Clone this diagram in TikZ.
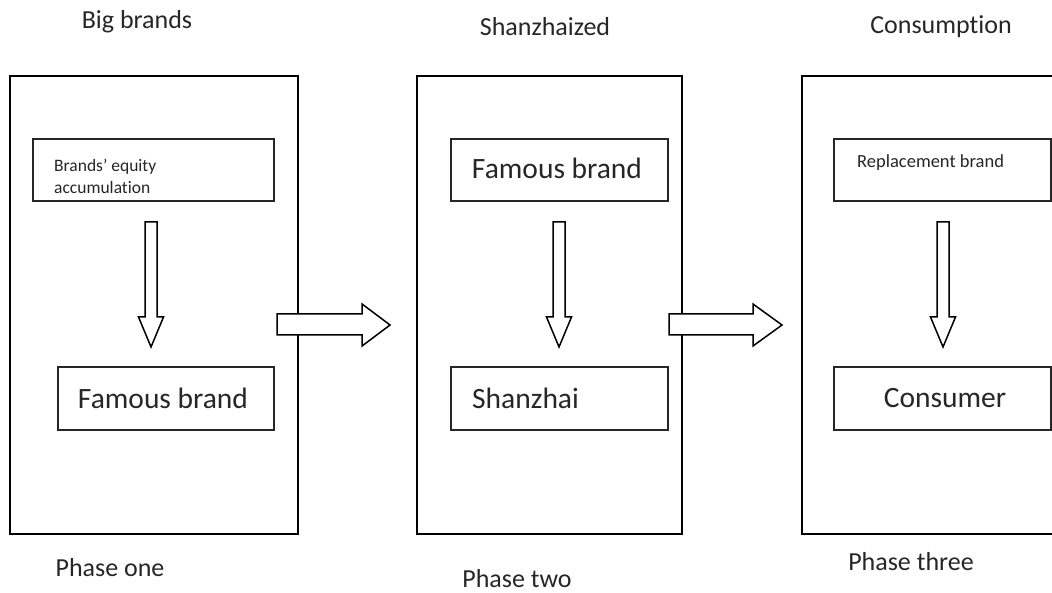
\documentclass[tikz,border=0pt]{standalone}
\usepackage{fontspec}
\setmainfont{Carlito}[Ligatures=NoCommon]
\definecolor{inkgray}{HTML}{262626}
\tikzset{
  phasebox/.style={draw=black, line width=2pt},
  itembox/.style={draw=black!85, line width=1.6pt},
  blockarrow/.style={draw=black, line width=1.5pt, fill=white, line join=miter},
  bigtext/.style={text=inkgray, font=\fontsize{29.5}{34}\selectfont, inner sep=0pt},
  smalltext/.style={text=inkgray, font=\fontsize{17.5}{22}\selectfont, inner sep=0pt, align=left},
  labeltext/.style={text=inkgray, font=\fontsize{26}{30}\selectfont, inner sep=0pt}
}
\begin{document}
\begin{tikzpicture}[x=1pt, y=-1pt]
  \useasboundingbox (0,0) rectangle (1052,593);
  \clip (0,0) rectangle (1052,593);

  % phase frames
  \draw[phasebox] (10,76) rectangle (298,534);
  \draw[phasebox] (417,76) rectangle (682,534);
  \draw[phasebox] (802,76) rectangle (1070,534);

  % phase one contents
  \draw[itembox] (33,139) rectangle (274,201);
  \node[smalltext, anchor=west] (equity) at (54,176) {Brands’ equity\\accumulation};
  \draw[itembox] (58,367) rectangle (274,430);
  \node[bigtext] (famous1) at (163,398) {Famous brand};

  % phase two contents
  \draw[itembox] (451,139) rectangle (668,201);
  \node[bigtext] (famous2) at (557,168) {Famous brand};
  \draw[itembox] (451,367) rectangle (668,430);
  \node[bigtext, anchor=west] (shanzhai) at (472,398) {Shanzhai};

  % phase three contents
  \draw[itembox] (834,139) rectangle (1051,201);
  \node[smalltext, anchor=west, font=\fontsize{18.5}{22}\selectfont] (replace) at (857,163) {Replacement brand};
  \draw[itembox] (834,367) rectangle (1051,430);
  \node[bigtext] (consumer) at (945,398) {Consumer};

  % vertical block arrows inside each phase
  \foreach \cx in {151,559,943}{
    \draw[blockarrow] (\cx-6,222) -- (\cx+6,222) -- (\cx+6,317) -- (\cx+12.5,317)
      -- (\cx,347) -- (\cx-12.5,317) -- (\cx-6,317) -- cycle;
  }

  % horizontal block arrows between phases
  \draw[blockarrow] (277,314) -- (362,314) -- (362,304) -- (390,325)
    -- (362,346) -- (362,335) -- (277,335) -- cycle;
  \draw[blockarrow] (669,314) -- (753,314) -- (753,304) -- (782,325)
    -- (753,346) -- (753,335) -- (669,335) -- cycle;

  % headings and phase captions
  \node[labeltext] (head1) at (137,22) {Big brands};
  \node[labeltext] (head2) at (545,27) {Shanzhaized};
  \node[labeltext] (head3) at (941,27) {Consumption};
  \node[labeltext] (phase1) at (110,568) {Phase one};
  \node[labeltext] (phase2) at (517,579) {Phase two};
  \node[labeltext] (phase3) at (911,562) {Phase three};
\end{tikzpicture}
\end{document}
